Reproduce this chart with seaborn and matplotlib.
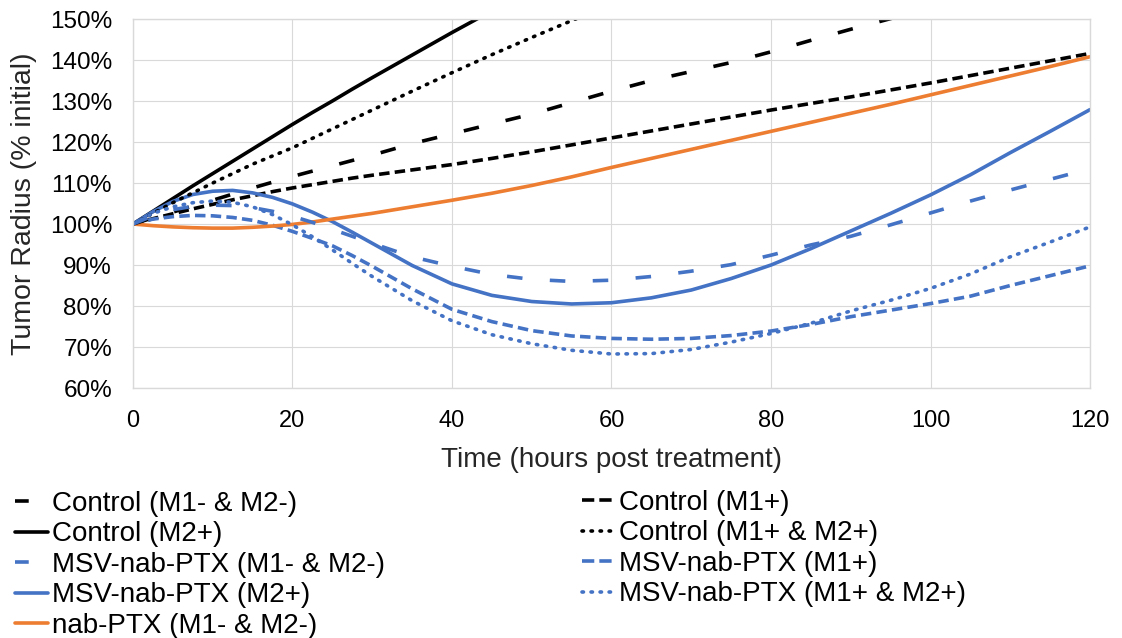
import numpy as np
import pandas as pd
import matplotlib
matplotlib.use("Agg")
import matplotlib.pyplot as plt
from matplotlib.lines import Line2D
import seaborn as sns

# time points (hours post treatment)
hours = [0, 2.5, 5, 7.5, 10, 12.5, 15, 17.5, 20, 22.5, 25, 27.5, 30,
         35, 40, 45, 50, 55, 60, 65, 70, 75, 80, 85, 90, 95, 100, 105, 110, 115, 120]

# tumor radius (% initial)
ctrl_none = [100, 101.3, 102.5, 103.7, 104.8, 105.9, 106.9, 107.9, 108.8, 109.6, 110.4, 111.2, 111.9,
             113.2, 114.5, 116.0, 117.6, 119.3, 121.0, 122.7, 124.4, 126.1, 127.8, 129.4, 131.0,
             132.7, 134.4, 136.2, 138.0, 139.8, 141.6]
ctrl_m1 = [100, 101.5, 102.9, 104.4, 105.8, 107.3, 108.8, 110.2, 111.6, 112.9, 114.2, 115.5, 116.8,
           119.6, 122.0, 124.4, 126.8, 129.6, 132.4, 135.0, 137.2, 139.4, 142.0, 144.8, 147.5,
           150.1, 152.7, 155.3, 157.9, 160.5, 163.1]
ctrl_m2 = [100, 103.1, 106.2, 109.3, 112.3, 115.3, 118.3, 121.3, 124.3, 127.2, 130.0, 132.9, 135.7,
           141.2, 146.7, 152.0, 157.3, 162.5, 167.6, 172.7, 177.8, 182.8, 187.8, 192.8, 197.8,
           202.8, 207.8, 212.8, 217.8, 222.8, 227.8]
ctrl_m1m2 = [100, 102.6, 105.2, 107.6, 110.0, 112.3, 114.6, 116.6, 118.6, 120.9, 123.2, 125.5, 127.8,
             132.4, 136.9, 141.3, 145.5, 149.6, 153.6, 157.6, 161.6, 165.6, 169.6, 173.6, 177.6,
             181.6, 185.6, 189.6, 193.6, 197.6, 201.6]
msv_none = [100, 101.2, 101.8, 102.1, 102.0, 101.6, 100.9, 99.7, 98.2, 96.5, 94.7, 92.3, 89.7,
            84.2, 79.2, 76.2, 74.0, 72.7, 72.1, 71.9, 72.1, 72.8, 73.9, 75.5, 77.4,
            79.0, 80.6, 82.4, 85.0, 87.4, 89.8]
msv_m1 = [100, 102.0, 103.5, 104.3, 104.6, 104.5, 104.0, 103.1, 101.9, 100.4, 98.7, 97.0, 95.3,
          92.0, 89.7, 87.7, 86.5, 86.0, 86.3, 87.2, 88.5, 90.1, 92.4, 94.9, 97.0,
          99.8, 102.7, 105.6, 108.3, 110.9, 113.5]
msv_m2 = [100, 103.0, 105.5, 107.2, 108.0, 108.2, 107.6, 106.5, 104.9, 102.9, 100.6, 98.0, 95.3,
          89.9, 85.4, 82.6, 81.1, 80.5, 80.8, 82.0, 83.9, 86.7, 90.0, 94.0, 98.3,
          102.6, 107.1, 112.0, 117.4, 122.6, 127.9]
msv_m1m2 = [100, 102.6, 104.2, 105.2, 105.6, 105.3, 104.2, 102.3, 99.8, 96.9, 93.7, 90.4, 87.2,
            81.3, 76.4, 73.0, 70.8, 69.2, 68.3, 68.4, 69.4, 71.2, 73.3, 75.8, 78.8,
            81.4, 84.3, 87.8, 92.0, 95.6, 99.3]
nab_none = [100, 99.6, 99.3, 99.1, 99.0, 99.0, 99.2, 99.5, 99.9, 100.5, 101.2, 101.9, 102.6,
            104.2, 105.8, 107.5, 109.4, 111.5, 113.8, 116.0, 118.2, 120.4, 122.6, 124.8, 127.0,
            129.2, 131.5, 133.8, 136.1, 138.4, 140.8]

y_ticks = [60, 70, 80, 90, 100, 110, 120, 130, 140, 150]
x_ticks = [0, 20, 40, 60, 80, 100, 120]

BLUE = "#4472C4"
ORANGE = "#ED7D31"
LW = 2.6
SHORT = (0, (2.9, 1.45))
LONG = (0, (4.3, 7.6))
DOT = (0, (0.4, 2.1))
# legend swatches are drawn a bit differently, like the original
LEG_SHORT = (0, (3.8, 20))
LEG_LONG = (0, (3.4, 1.4))

sns.set_style("whitegrid", {"grid.color": "#D9D9D9", "axes.edgecolor": "#D9D9D9"})
plt.rcParams["font.family"] = ["Liberation Sans", "DejaVu Sans"]

fig = plt.figure(figsize=(11.22, 6.38), dpi=100)
ax = fig.add_axes([0.1185, 0.3918, 0.853, 0.5784])

# (label, values, color, linestyle, legend linestyle)
series = [
    ("Control (M1- & M2-)", ctrl_none, "black", SHORT, LEG_SHORT),
    ("Control (M2+)", ctrl_m2, "black", "-", "-"),
    ("MSV-nab-PTX (M1- & M2-)", msv_none, BLUE, SHORT, LEG_SHORT),
    ("MSV-nab-PTX (M2+)", msv_m2, BLUE, "-", "-"),
    ("nab-PTX (M1- & M2-)", nab_none, ORANGE, "-", "-"),
    ("Control (M1+)", ctrl_m1, "black", LONG, LEG_LONG),
    ("Control (M1+ & M2+)", ctrl_m1m2, "black", DOT, DOT),
    ("MSV-nab-PTX (M1+)", msv_m1, BLUE, LONG, LEG_LONG),
    ("MSV-nab-PTX (M1+ & M2+)", msv_m1m2, BLUE, DOT, DOT),
]

handles = []
for label, vals, color, ls, leg_ls in series:
    sns.lineplot(x=hours, y=vals, ax=ax, color=color, linestyle=ls, linewidth=LW)
    line = ax.get_lines()[-1]
    line.set_linewidth(LW)
    line.set_linestyle(ls)
    line.set_dash_capstyle("round" if ls == DOT else "butt")
    handles.append(Line2D([], [], color=color, linestyle=leg_ls, linewidth=LW,
                          dash_capstyle="round" if ls == DOT else "butt"))

ax.set_xlim(0, 120)
ax.set_ylim(60, 150)
ax.set_xticks(x_ticks)
ax.set_yticks(y_ticks)
ax.set_yticklabels([f"{v}%" for v in y_ticks])
ax.tick_params(axis="x", labelsize=17, pad=16, length=0, colors="black")
ax.tick_params(axis="y", labelsize=17.5, pad=15, length=0, colors="black")
for s in ax.spines.values():
    s.set_color("#D9D9D9")
    s.set_linewidth(1)

ax.set_xlabel("Time (hours post treatment)", fontsize=20)
ax.set_ylabel("Tumor Radius (% initial)", fontsize=20.5)
ax.xaxis.set_label_coords(0.5, -0.159)
ax.yaxis.set_label_coords(-0.100, 0.5)

leg_kw = dict(frameon=False, fontsize=20, handlelength=1.18, handletextpad=0.15,
              labelspacing=0.16, borderpad=0, borderaxespad=0, loc="upper left",
              labelcolor="black")
fig.legend(handles=handles[:5], labels=[s[0] for s in series[:5]],
           bbox_to_anchor=(15 / 1122, 1 - 491 / 638), **leg_kw)
fig.legend(handles=handles[5:], labels=[s[0] for s in series[5:]],
           bbox_to_anchor=(582 / 1122, 1 - 490 / 638), **leg_kw)

fig.savefig("out.png", dpi=100)
